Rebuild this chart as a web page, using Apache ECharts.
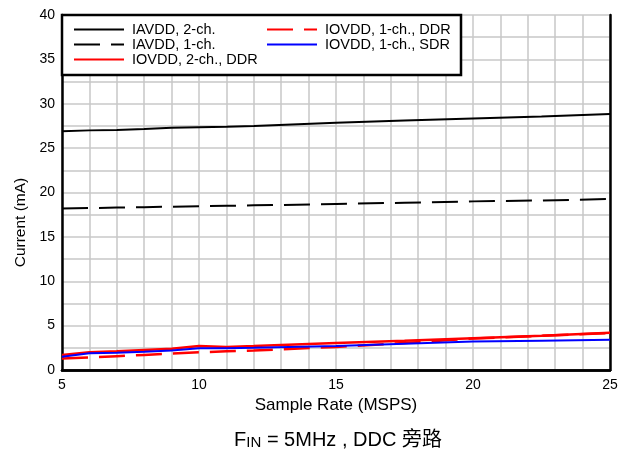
<!DOCTYPE html>
<html><head><meta charset="utf-8">
<script src="https://cdn.jsdelivr.net/npm/echarts@6/dist/echarts.min.js"></script>
<style>html,body{margin:0;padding:0;background:#fff}#c{width:626px;height:449px}</style>
</head><body><div id="c"></div>
<script>
const xRate = [5, 6, 7, 8, 9, 10, 11, 12, 15, 17.5, 20, 22.5, 25];
const iavdd2ch = [26.9, 27.0, 27.05, 27.15, 27.3, 27.35, 27.4, 27.5, 27.85, 28.1, 28.35, 28.55, 28.85];
const iavdd1ch = [18.2, 18.25, 18.3, 18.35, 18.4, 18.45, 18.5, 18.55, 18.7, 18.85, 19.0, 19.1, 19.27];
const iovdd2chDDR = [1.7, 2.0, 2.1, 2.25, 2.4, 2.7, 2.6, 2.7, 3.05, 3.3, 3.57, 3.85, 4.2];
const iovdd1chDDR = [1.3, 1.4, 1.55, 1.7, 1.85, 2.0, 2.1, 2.2, 2.6, 3.05, 3.55, 3.85, 4.15];
const iovdd1chSDR = [1.5, 1.88, 1.95, 2.05, 2.2, 2.44, 2.45, 2.5, 2.7, 2.95, 3.2, 3.3, 3.4];
const seriesNames = ['IAVDD, 2-ch.', 'IAVDD, 1-ch.', 'IOVDD, 2-ch., DDR', 'IOVDD, 1-ch., DDR', 'IOVDD, 1-ch., SDR'];

const pts = arr => xRate.map((x, i) => [x, arr[i]]);
const font = 'Liberation Sans, Arial, sans-serif';
const chart = echarts.init(document.getElementById('c'));
const mk = (name, arr, color, type, w) => ({
  name, type: 'line', data: pts(arr), symbol: 'none', smooth: false,
  lineStyle: { color, width: w, type }, itemStyle: { color }
});
const gridLine = { show: true, lineStyle: { color: '#c8c8c8', width: 1.5 } };
const edge = { show: true, lineStyle: { color: '#000', width: 2.5 } };
const legendBase = {
  z: 20, orient: 'vertical', top: 22, itemWidth: 50, itemHeight: 10, itemGap: 0, padding: 0,
  itemStyle: { opacity: 0 },
  textStyle: { color: '#000', fontSize: 14.5, lineHeight: 14.5, fontFamily: font, padding: [0, 0, 0, 3] }
};
chart.setOption({
  animation: false,
  grid: { left: 62, right: 16, top: 15, bottom: 79 },
  xAxis: [{
    type: 'value', min: 5, max: 25, interval: 5,
    name: 'Sample Rate (MSPS)', nameLocation: 'middle', nameGap: 25,
    nameTextStyle: { color: '#000', fontSize: 17, fontFamily: font },
    axisLine: edge, axisTick: { show: false },
    axisLabel: { color: '#000', fontSize: 14, fontFamily: font, margin: 8 },
    splitLine: gridLine, minorSplitLine: gridLine,
    minorTick: { show: false, splitNumber: 5 }
  }, {
    type: 'value', position: 'top', min: 5, max: 25, interval: 5,
    axisLine: edge, axisTick: { show: false }, axisLabel: { show: false }, splitLine: { show: false }
  }],
  yAxis: [{
    type: 'value', min: 0, max: 40, interval: 5,
    name: 'Current (mA)', nameLocation: 'middle', nameGap: 32,
    nameTextStyle: { color: '#000', fontSize: 15.5, fontFamily: font, padding: [0, 60, 0, 0] },
    axisLine: edge, axisTick: { show: false },
    axisLabel: { color: '#000', fontSize: 14, fontFamily: font, margin: 7 },
    splitLine: gridLine, minorSplitLine: gridLine,
    minorTick: { show: false, splitNumber: 2 }
  }, {
    type: 'value', position: 'right', min: 0, max: 40, interval: 5,
    axisLine: edge, axisTick: { show: false }, axisLabel: { show: false }, splitLine: { show: false }
  }],
  legend: [
    Object.assign({}, legendBase, { data: seriesNames.slice(0, 3), left: 73 }),
    Object.assign({}, legendBase, { data: seriesNames.slice(3), left: 266 })
  ],
  graphic: [
    { type: 'rect', z: 10, shape: { x: 62, y: 15, width: 399, height: 60 }, style: { fill: '#fff', stroke: '#000', lineWidth: 2.5 }, silent: true },
    { type: 'text', x: 338, y: 422, z: 10, style: {
      text: '{a|F}{s|IN}{a| = 5MHz , DDC 旁路}',
      align: 'center', verticalAlign: 'top',
      rich: {
        a: { fontSize: 20, fontFamily: 'Liberation Sans, Noto Sans CJK SC, sans-serif', fill: '#000', verticalAlign: 'bottom', lineHeight: 28 },
        s: { fontSize: 15, fontFamily: 'Liberation Sans, sans-serif', fill: '#000', verticalAlign: 'bottom', lineHeight: 15 }
      }
    } }
  ],
  series: [
    mk(seriesNames[0], iavdd2ch, '#000', 'solid', 2),
    mk(seriesNames[1], iavdd1ch, '#000', [26, 11], 2),
    mk(seriesNames[2], iovdd2chDDR, '#ff0000', 'solid', 2.5),
    mk(seriesNames[3], iovdd1chDDR, '#ff0000', [26, 11], 2.5),
    mk(seriesNames[4], iovdd1chSDR, '#0000ff', 'solid', 2)
  ]
});
</script></body></html>
